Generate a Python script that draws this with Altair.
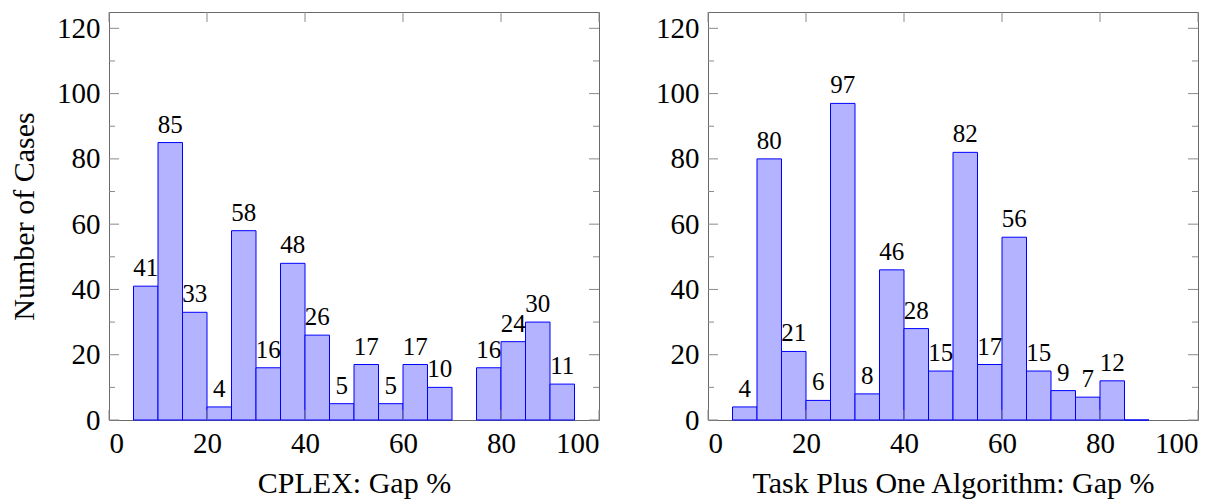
import altair as alt
import pandas as pd

# ---- data ----
bin_starts_cplex = [5, 10, 15, 20, 25, 30, 35, 40, 45, 50, 55, 60, 65, 75, 80, 85, 90]
counts_cplex = [41, 85, 33, 4, 58, 16, 48, 26, 5, 17, 5, 17, 10, 16, 24, 30, 11]

bin_starts_tpo = [5, 10, 15, 20, 25, 30, 35, 40, 45, 50, 55, 60, 65, 70, 75, 80, 85]
counts_tpo = [4, 80, 21, 6, 97, 8, 46, 28, 15, 82, 17, 56, 15, 9, 7, 12, 0]

bin_width = 5
x_ticks = [0, 20, 40, 60, 80, 100]
y_major = [0, 20, 40, 60, 80, 100, 120]
y_minor = [10, 30, 50, 70, 90, 110]

title_left = "CPLEX: Gap %"
title_right = "Task Plus One Algorithm: Gap %"
y_title = "Number of Cases"

W, H = 490, 408
FONT = "Liberation Serif"
FRAME = "#6a6a6a"
TICK = "#8a8a8a"


def panel(starts, counts, xtitle, ytitle):
    df = pd.DataFrame({"start": starts, "count": counts})
    df["end"] = df["start"] + bin_width
    df["mid"] = df["start"] + bin_width / 2
    xs = alt.Scale(domain=[0, 100], nice=False, zero=False)
    ys = alt.Scale(domain=[0, 125], nice=False)
    yaxis = alt.Axis(values=y_major, title=ytitle, labelPadding=9, titlePadding=17)
    xaxis = alt.Axis(values=x_ticks, title=xtitle, labelPadding=9, titlePadding=10)

    bars = alt.Chart(df).mark_rect(fill="#b3b3ff", stroke="#0000ff", strokeWidth=1).encode(
        x=alt.X("start:Q", scale=xs, axis=xaxis),
        x2="end:Q",
        y=alt.Y("count:Q", scale=ys, axis=yaxis),
        y2=alt.datum(0),
    )
    labels = alt.Chart(df).transform_filter("datum.count > 0").mark_text(
        font=FONT, fontSize=25, baseline="alphabetic", dy=-10, color="black"
    ).encode(
        x=alt.X("mid:Q", scale=xs),
        y=alt.Y("count:Q", scale=ys),
        text="count:Q",
    )
    ymaj = pd.DataFrame({"v": y_major})
    ymin = pd.DataFrame({"v": y_minor})
    xt = pd.DataFrame({"v": x_ticks})
    rules = []
    for d, ln in ((ymaj, 10), (ymin, 6)):
        rules.append(alt.Chart(d).mark_rule(color=TICK, strokeWidth=1).encode(
            y=alt.Y("v:Q", scale=ys), x=alt.value(0), x2=alt.value(ln)))
        rules.append(alt.Chart(d).mark_rule(color=TICK, strokeWidth=1).encode(
            y=alt.Y("v:Q", scale=ys), x=alt.value(W), x2=alt.value(W - ln)))
    rules.append(alt.Chart(xt).mark_rule(color=TICK, strokeWidth=1).encode(
        x=alt.X("v:Q", scale=xs), y=alt.value(0), y2=alt.value(10)))
    rules.append(alt.Chart(xt).mark_rule(color=TICK, strokeWidth=1).encode(
        x=alt.X("v:Q", scale=xs), y=alt.value(H), y2=alt.value(H - 10)))
    return alt.layer(bars, *rules, labels).properties(width=W, height=H)


left = panel(bin_starts_cplex, counts_cplex, title_left, y_title)
right = panel(bin_starts_tpo, counts_tpo, title_right, "")

chart = alt.hconcat(left, right, spacing=55).properties(
    padding={"left": 1, "top": 3, "right": 5, "bottom": 5}
).configure_view(stroke=FRAME, strokeWidth=1).configure_axis(
    labelFont=FONT, labelFontSize=29, labelColor="black",
    titleFont=FONT, titleFontSize=30, titleFontWeight="normal", titleColor="black",
    ticks=False, tickSize=0, domain=False, grid=False,
)

chart.save("out.html", embed_options={"renderer": "svg", "actions": False})
